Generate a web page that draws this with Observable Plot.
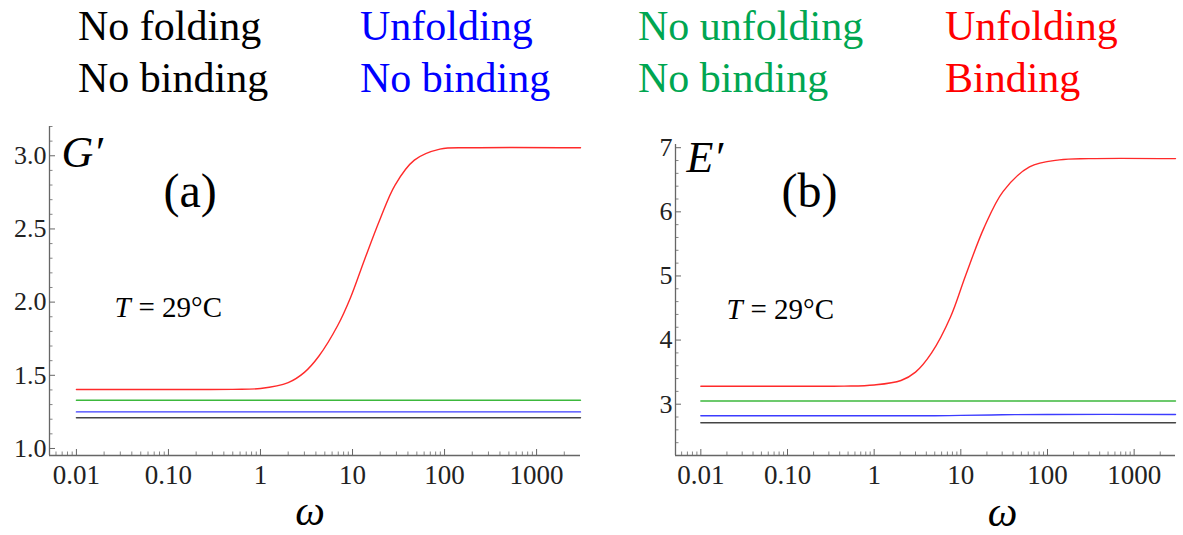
<!DOCTYPE html>
<html><head><meta charset="utf-8">
<script src="https://cdn.jsdelivr.net/npm/d3@7"></script>
<script src="https://cdn.jsdelivr.net/npm/@observablehq/plot@0.6"></script>
<style>
body{margin:0;background:#fff;font-family:"Liberation Serif","Tinos","DejaVu Serif",serif;}
#wrap{position:relative;width:1183px;height:535px;overflow:hidden;background:#fff;}
.leg{position:absolute;top:1px;font-family:"Liberation Serif","Tinos","DejaVu Serif",serif;font-size:42px;line-height:51.5px;white-space:nowrap;}
.panel{position:absolute;top:110px;}
</style></head><body>
<div id="wrap"></div>
<script>
// ---------- legend ----------
const legendLine1 = ["No folding", "Unfolding", "No unfolding", "Unfolding"];
const legendLine2 = ["No binding", "No binding", "No binding", "Binding"];
const legendColors = ["#000000", "#0000ff", "#00a651", "#ff0000"];
const seriesColors = ["#444444", "#3c3cff", "#3cb83c", "#ff2a2a"];

// ---------- axes ----------
const xTicks = [0.01, 0.1, 1, 10, 100, 1000];
const xTickLabels = ["0.01", "0.10", "1", "10", "100", "1000"];
const xDomain = [0.0051, 3000];
const yTicksA = [1.0, 1.5, 2.0, 2.5, 3.0];
const yTickLabelsA = ["1.0", "1.5", "2.0", "2.5", "3.0"];
const yDomainA = [0.952, 3.2];
const yTicksB = [3, 4, 5, 6, 7];
const yTickLabelsB = ["3", "4", "5", "6", "7"];
const yDomainB = [2.2, 7.05];

// ---------- panel (a) G' ----------
const omegaFlat = [0.01, 3000];
const gBlack = [1.21, 1.21];
const gBlue = [1.25, 1.25];
const gGreen = [1.33, 1.33];
const omegaRedA = [0.01, 0.1, 0.5, 1, 2.0, 3.0, 4.3, 6.9, 9.5, 13.5, 20, 29, 47, 89, 200, 3000];
const gRed = [1.403, 1.403, 1.404, 1.41, 1.45, 1.52, 1.63, 1.84, 2.03, 2.29, 2.57, 2.80, 2.97, 3.045, 3.055, 3.055];

// ---------- panel (b) E' ----------
const eBlack = [2.71, 2.71];
const eGreen = [3.05, 3.05];
const omegaBlueB = [0.01, 1, 5, 10, 30, 100, 3000];
const eBlue = [2.82, 2.82, 2.82, 2.825, 2.835, 2.84, 2.84];
const omegaRedB = [0.01, 0.1, 0.45, 1, 2.04, 3.0, 4.6, 7.6, 11.3, 18.5, 30.8, 62, 137, 300, 3000];
const eRed = [3.28, 3.28, 3.282, 3.30, 3.37, 3.50, 3.80, 4.36, 5.00, 5.75, 6.32, 6.70, 6.81, 6.83, 6.83];

const wrap = document.getElementById("wrap");
const legLeft = [78, 360, 638, 945];
legendLine1.forEach((t, i) => {
  const d = document.createElement("div");
  d.className = "leg";
  d.style.left = legLeft[i] + "px";
  d.style.color = legendColors[i];
  d.innerHTML = t + "<br>" + legendLine2[i];
  wrap.appendChild(d);
});

const zip = (xs, ys) => xs.map((x, i) => ({x, y: ys[i]}));

function minorLog() {
  const out = [];
  for (let e = -3; e <= 3; e++) for (let m = 2; m <= 9; m++) {
    const v = m * Math.pow(10, e);
    if (v > xDomain[0] && v < xDomain[1]) out.push(v);
  }
  return out;
}
function minorLin(dom, step, majors) {
  const out = [];
  for (let v = Math.ceil(dom[0] / step) * step; v <= dom[1] + 1e-9; v += step) {
    const r = Math.round(v * 1000) / 1000;
    if (!majors.some(m => Math.abs(m - r) < 1e-6)) out.push(r);
  }
  return out;
}

const FONT = "'Liberation Serif', 'Tinos', 'DejaVu Serif', serif";
const axisColor = "#666";
const labelColor = "#222";

function panel(cfg) {
  const innerW = cfg.width - cfg.marginLeft - cfg.marginRight;
  const innerH = cfg.height - cfg.marginTop - cfg.marginBottom;
  const series = cfg.lines.map(l =>
    Plot.line(zip(l.xs, l.ys), {x: "x", y: "y", stroke: l.color, strokeWidth: 1.4, curve: "catmull-rom"}));
  const txt = {fontFamily: FONT, fill: "#000"};
  return Plot.plot({
    width: cfg.width, height: cfg.height,
    marginLeft: cfg.marginLeft, marginRight: cfg.marginRight,
    marginTop: cfg.marginTop, marginBottom: cfg.marginBottom,
    style: {fontFamily: FONT, background: "white", overflow: "visible"},
    x: {type: "log", domain: xDomain, axis: null},
    y: {domain: cfg.yDomain, axis: null},
    marks: [
      Plot.ruleX([xDomain[0]], {stroke: axisColor, strokeWidth: 1.3}),
      Plot.ruleY([cfg.yDomain[0]], {stroke: axisColor, strokeWidth: 1.3}),
      Plot.tickX(xTicks, {x: d => d, stroke: axisColor, insetTop: innerH - 6}),
      Plot.tickX(minorLog(), {x: d => d, stroke: axisColor, strokeWidth: 0.8, insetTop: innerH - 3.5}),
      Plot.tickY(cfg.yTicks, {y: d => d, stroke: axisColor, insetRight: innerW - 6}),
      Plot.tickY(cfg.yMinor, {y: d => d, stroke: axisColor, strokeWidth: 0.8, insetRight: innerW - 3.5}),
      Plot.text(xTicks, {x: d => d, text: (d, i) => xTickLabels[i], frameAnchor: "bottom", lineAnchor: "top", dy: 9, fontSize: 27, fontFamily: FONT, fill: labelColor}),
      Plot.text(cfg.yTicks, {y: d => d, text: (d, i) => cfg.yLabels[i], frameAnchor: "left", textAnchor: "end", lineAnchor: "middle", dx: -3, fontSize: 26, fontFamily: FONT, fill: labelColor}),
      ...series,
      Plot.text([cfg.title], {...txt, frameAnchor: "top-left", dx: cfg.titlePos[0], dy: cfg.titlePos[1], fontSize: 44, fontStyle: "italic"}),
      Plot.text([cfg.tag], {...txt, frameAnchor: "top-left", dx: cfg.tagPos[0], dy: cfg.tagPos[1], fontSize: 48}),
      Plot.text(["T"], {...txt, frameAnchor: "top-left", dx: cfg.tPos[0], dy: cfg.tPos[1], fontSize: 29, fontStyle: "italic"}),
      Plot.text(["= 29°C"], {...txt, frameAnchor: "top-left", dx: cfg.tPos[0] + 24, dy: cfg.tPos[1], fontSize: 29}),
      Plot.text(["ω"], {...txt, frameAnchor: "bottom", lineAnchor: "bottom", dx: cfg.omegaPos[0], dy: cfg.omegaPos[1], fontSize: 42, fontStyle: "italic"})
    ]
  });
}

const pa = panel({
  width: 620, height: 425, marginLeft: 49, marginRight: 40, marginTop: 16, marginBottom: 80,
  yDomain: yDomainA, yTicks: yTicksA, yLabels: yTickLabelsA, yMinor: minorLin(yDomainA, 0.1, yTicksA),
  lines: [
    {xs: omegaFlat, ys: gBlack, color: seriesColors[0]},
    {xs: omegaFlat, ys: gBlue, color: seriesColors[1]},
    {xs: omegaFlat, ys: gGreen, color: seriesColors[2]},
    {xs: omegaRedA, ys: gRed, color: seriesColors[3]}
  ],
  title: "G′", titlePos: [12, 9], tag: "(a)", tagPos: [114, 46], tPos: [65, 170], omegaPos: [-5, 69]
});
pa.classList.add("panel"); pa.style.left = "0px";
wrap.appendChild(pa);

const pb = panel({
  width: 563, height: 425, marginLeft: 55, marginRight: 8, marginTop: 34, marginBottom: 80,
  yDomain: yDomainB, yTicks: yTicksB, yLabels: yTickLabelsB, yMinor: minorLin(yDomainB, 0.2, yTicksB),
  lines: [
    {xs: omegaFlat, ys: eBlack, color: seriesColors[0]},
    {xs: omegaBlueB, ys: eBlue, color: seriesColors[1]},
    {xs: omegaFlat, ys: eGreen, color: seriesColors[2]},
    {xs: omegaRedB, ys: eRed, color: seriesColors[3]}
  ],
  title: "E′", titlePos: [11, -4], tag: "(b)", tagPos: [106, 28], tPos: [51, 154], omegaPos: [77, 70]
});
pb.classList.add("panel"); pb.style.left = "620px";
wrap.appendChild(pb);
</script>
</body></html>
